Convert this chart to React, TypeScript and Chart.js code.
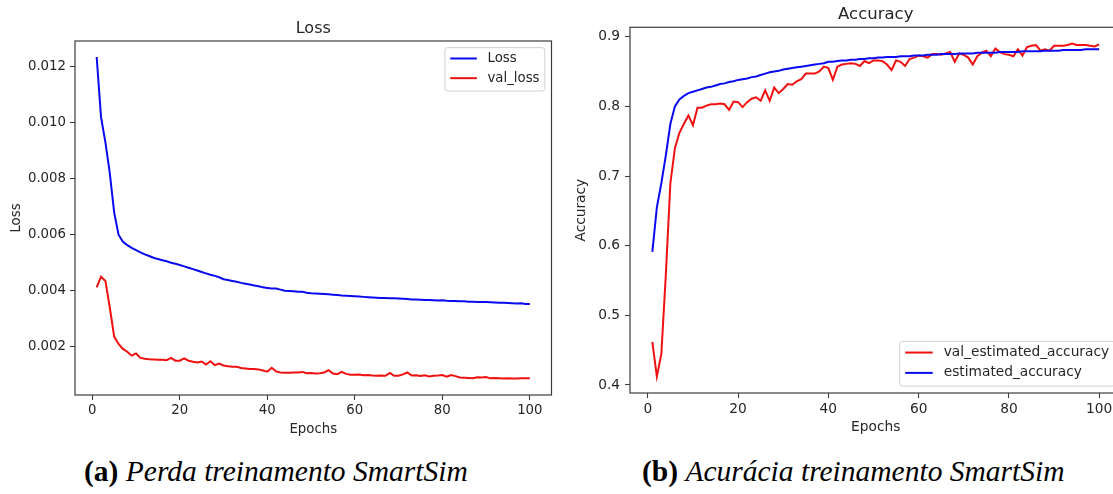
import React, { useEffect, useRef } from "react";
import { Chart, registerables } from "chart.js";

Chart.register(...registerables);

const FONT = "'DejaVu Sans', sans-serif";

const epochs = [
  1, 2, 3, 4, 5, 6, 7, 8, 9, 10, 11, 12, 13, 14, 15, 16, 17, 18, 19, 20,
  21, 22, 23, 24, 25, 26, 27, 28, 29, 30, 31, 32, 33, 34, 35, 36, 37, 38, 39, 40,
  41, 42, 43, 44, 45, 46, 47, 48, 49, 50, 51, 52, 53, 54, 55, 56, 57, 58, 59, 60,
  61, 62, 63, 64, 65, 66, 67, 68, 69, 70, 71, 72, 73, 74, 75, 76, 77, 78, 79, 80,
  81, 82, 83, 84, 85, 86, 87, 88, 89, 90, 91, 92, 93, 94, 95, 96, 97, 98, 99, 100,
];

const lossValues = [
  0.01235, 0.0102, 0.0093, 0.0082, 0.0068, 0.006, 0.00575, 0.00563, 0.00553, 0.00545,
  0.00537, 0.0053, 0.00524, 0.00518, 0.00513, 0.00509, 0.00505, 0.005, 0.00496, 0.00492,
  0.00487, 0.00482, 0.00477, 0.00472, 0.00467, 0.00462, 0.00457, 0.00453, 0.00448, 0.00441,
  0.00438, 0.00435, 0.00432, 0.00428, 0.00425, 0.00422, 0.00419, 0.00416, 0.00412, 0.0041,
  0.00408, 0.00408, 0.00404, 0.004, 0.00399, 0.00398, 0.00396, 0.00396, 0.00393, 0.00391,
  0.0039, 0.00389, 0.00388, 0.00387, 0.00386, 0.00385, 0.00383, 0.00382, 0.00381, 0.0038,
  0.00379, 0.00378, 0.00377, 0.00376, 0.00375, 0.00374, 0.00374, 0.00373, 0.00373, 0.00372,
  0.00371, 0.0037, 0.00369, 0.00369, 0.00368, 0.00367, 0.00367, 0.00366, 0.00365, 0.00366,
  0.00364, 0.00363, 0.00363, 0.00362, 0.00362, 0.00361, 0.00361, 0.0036, 0.0036, 0.0036,
  0.00359, 0.00358, 0.00357, 0.00357, 0.00356, 0.00355, 0.00354, 0.00355, 0.00353, 0.00353,
];

const valLossValues = [
  0.00412, 0.0045, 0.00435, 0.0034, 0.00236, 0.0021, 0.00192, 0.00182, 0.00168, 0.00176,
  0.0016, 0.00157, 0.00155, 0.00154, 0.00153, 0.00153, 0.00152, 0.0016, 0.0015, 0.0015,
  0.00158, 0.0015, 0.00146, 0.00144, 0.00147, 0.00136, 0.00148, 0.00134, 0.0014, 0.00133,
  0.0013, 0.00128, 0.00128, 0.00124, 0.00122, 0.0012, 0.0012, 0.00119, 0.00115, 0.00111,
  0.00125, 0.00112, 0.00108, 0.00107, 0.00107, 0.00108, 0.00108, 0.0011, 0.00105, 0.00106,
  0.00104, 0.00105, 0.00108, 0.00116, 0.00104, 0.00102, 0.0011, 0.00103, 0.001, 0.001,
  0.00101, 0.00098, 0.00099, 0.00097, 0.00096, 0.00097, 0.00096, 0.00106, 0.00096, 0.00096,
  0.00101, 0.00108, 0.00097, 0.00098, 0.00095, 0.00098, 0.00094, 0.00096, 0.00097, 0.00099,
  0.00093, 0.00099, 0.00095, 0.0009, 0.00089, 0.00088, 0.00087, 0.00091, 0.0009, 0.00092,
  0.00087, 0.00088, 0.00087, 0.00086, 0.00087, 0.00086, 0.00086, 0.00087, 0.00087, 0.00087,
];

const valAccuracyValues = [
  0.462, 0.412, 0.445, 0.56, 0.69, 0.74, 0.762, 0.775, 0.787, 0.773,
  0.798, 0.798, 0.801, 0.803, 0.803, 0.804, 0.803, 0.795, 0.807, 0.806,
  0.799, 0.806, 0.811, 0.813, 0.808, 0.823, 0.808, 0.827, 0.819, 0.825,
  0.832, 0.831, 0.836, 0.839, 0.847, 0.847, 0.847, 0.85, 0.857, 0.855,
  0.838, 0.857, 0.86, 0.861, 0.862, 0.861, 0.858, 0.865, 0.862, 0.866,
  0.866, 0.865, 0.86, 0.852, 0.866, 0.864, 0.858, 0.868, 0.87, 0.873,
  0.872, 0.87, 0.875, 0.875, 0.874, 0.876, 0.878, 0.864, 0.876, 0.874,
  0.87, 0.86, 0.872, 0.877, 0.88, 0.872, 0.883, 0.878, 0.875, 0.874,
  0.872, 0.882, 0.873, 0.885, 0.887, 0.888, 0.88, 0.882, 0.88, 0.887,
  0.887, 0.887, 0.888, 0.89, 0.888, 0.888, 0.888, 0.887, 0.886, 0.889,
];

const accuracyValues = [
  0.591, 0.655, 0.69, 0.73, 0.775, 0.8, 0.81, 0.815, 0.819, 0.821,
  0.823, 0.825, 0.827, 0.828, 0.83, 0.832, 0.833, 0.835, 0.836, 0.838,
  0.839, 0.84, 0.842, 0.843, 0.845, 0.847, 0.849, 0.85, 0.851, 0.853,
  0.854, 0.855, 0.856, 0.857, 0.858, 0.859, 0.86, 0.861, 0.862, 0.864,
  0.864, 0.865, 0.866, 0.866, 0.867, 0.867, 0.868, 0.868, 0.869, 0.869,
  0.87, 0.87, 0.871, 0.871, 0.871, 0.872, 0.872, 0.872, 0.873, 0.873,
  0.873, 0.874, 0.874, 0.874, 0.875, 0.875, 0.875, 0.875, 0.876, 0.876,
  0.876, 0.876, 0.877, 0.877, 0.877, 0.877, 0.877, 0.878, 0.878, 0.878,
  0.878, 0.878, 0.879, 0.879, 0.879, 0.879, 0.879, 0.88, 0.88, 0.88,
  0.88, 0.881, 0.881, 0.881, 0.881, 0.881, 0.882, 0.882, 0.882, 0.882,
];

const xTickValues = [0, 20, 40, 60, 80, 100];
const lossTickValues = [0.002, 0.004, 0.006, 0.008, 0.01, 0.012];
const accTickValues = [0.4, 0.5, 0.6, 0.7, 0.8, 0.9];

const BLUE = "#0a0af0";
const RED = "#f01010";
const TEXT = "#262626";
const SPINE = "#3c3c3c";

const framePlugin = {
  id: "mplFrame",
  afterDatasetsDraw(chart: any) {
    const { ctx, chartArea } = chart;
    ctx.save();
    ctx.strokeStyle = SPINE;
    ctx.lineWidth = 1.2;
    ctx.strokeRect(chartArea.left, chartArea.top, chartArea.right - chartArea.left, chartArea.bottom - chartArea.top);
    ctx.restore();
  },
};

const legendPlugin = {
  id: "mplLegend",
  afterDraw(chart: any, _args: any, opts: any) {
    const { ctx, chartArea } = chart;
    const fs = opts.fontSize;
    ctx.save();
    ctx.font = `${fs}px ${FONT}`;
    const items = chart.data.datasets.map((d: any) => ({ label: d.label, color: d.borderColor }));
    const textW = Math.max(...items.map((i: any) => ctx.measureText(i.label).width));
    const pad = 0.4 * fs;
    const handle = 2 * fs;
    const gap = 0.8 * fs;
    const rowH = 0.98 * fs;
    const spacing = 0.5 * fs;
    const axPad = 0.5 * fs;
    const w = pad * 2 + handle + gap + textW;
    const h = pad * 2 + items.length * rowH + (items.length - 1) * spacing;
    const x = chartArea.right - axPad - w;
    const y = opts.loc === "upper right" ? chartArea.top + axPad : chartArea.bottom - axPad - h;
    ctx.beginPath();
    ctx.roundRect(x, y, w, h, 0.2 * fs);
    ctx.fillStyle = "rgba(255,255,255,0.8)";
    ctx.fill();
    ctx.strokeStyle = "#d0d0d0";
    ctx.lineWidth = 1;
    ctx.stroke();
    items.forEach((it: any, i: number) => {
      const cy = y + pad + rowH / 2 + i * (rowH + spacing) - 1;
      ctx.beginPath();
      ctx.moveTo(x + pad, cy);
      ctx.lineTo(x + pad + handle, cy);
      ctx.strokeStyle = it.color;
      ctx.lineWidth = 2;
      ctx.stroke();
      ctx.fillStyle = TEXT;
      ctx.textBaseline = "middle";
      ctx.textAlign = "left";
      ctx.fillText(it.label, x + pad + handle + gap, cy);
    });
    ctx.restore();
  },
};

type PanelProps = {
  title: string;
  yTitle: string;
  series: { label: string; values: number[]; color: string }[];
  yTicks: number[];
  yMin: number;
  yMax: number;
  decimals: number;
  fontSize: number;
  titleSize: number;
  titleTop: number;
  titleBottom: number;
  yWidth: number;
  yTitlePad: number;
  yTickPad: number;
  padRight: number;
  padBottom: number;
  width: number;
  height: number;
  legendLoc: string;
};

function Panel(p: PanelProps) {
  const ref = useRef<HTMLCanvasElement | null>(null);
  useEffect(() => {
    if (!ref.current) return;
    const tickFont = { family: FONT, size: p.fontSize };
    const n = p.series.length;
    const chart = new Chart(ref.current, {
      type: "line",
      data: {
        datasets: p.series.map((s, i) => ({
          label: s.label,
          data: epochs.map((e, j) => ({ x: e, y: s.values[j] })),
          borderColor: s.color,
          backgroundColor: s.color,
          borderWidth: 2,
          pointRadius: 0,
          tension: 0,
          fill: false,
          order: n - i,
        })),
      },
      options: {
        animation: false,
        responsive: false,
        maintainAspectRatio: false,
        events: [],
        layout: { padding: { left: 0, top: 0, right: p.padRight, bottom: p.padBottom } },
        plugins: {
          legend: { display: false },
          tooltip: { enabled: false },
          title: {
            display: true,
            text: p.title,
            color: TEXT,
            fullSize: false,
            font: { family: FONT, size: p.titleSize, weight: "normal", lineHeight: 1.2 },
            padding: { top: p.titleTop, bottom: p.titleBottom },
          },
          mplLegend: { fontSize: p.fontSize, loc: p.legendLoc },
        } as any,
        scales: {
          x: {
            type: "linear",
            min: -3.95,
            max: 104.95,
            afterBuildTicks: (s: any) => {
              s.ticks = xTickValues.map((v) => ({ value: v }));
            },
            afterFit: (s: any) => {
              s.height = 50;
            },
            grid: { drawOnChartArea: false, drawTicks: true, tickLength: 5, tickColor: SPINE, tickWidth: 1.1 },
            border: { display: false },
            ticks: {
              color: TEXT,
              font: tickFont,
              padding: 3,
              maxRotation: 0,
              autoSkip: false,
              callback: (v: any) => String(v),
            },
            title: {
              display: true,
              text: "Epochs",
              color: TEXT,
              font: tickFont,
              padding: { top: 0, bottom: 7 },
            },
          },
          y: {
            type: "linear",
            min: p.yMin,
            max: p.yMax,
            afterBuildTicks: (s: any) => {
              s.ticks = p.yTicks.map((v) => ({ value: v }));
            },
            afterFit: (s: any) => {
              s.width = p.yWidth;
            },
            grid: { drawOnChartArea: false, drawTicks: true, tickLength: 5, tickColor: SPINE, tickWidth: 1.1 },
            border: { display: false },
            ticks: {
              color: TEXT,
              font: tickFont,
              padding: p.yTickPad,
              autoSkip: false,
              callback: (v: any) => Number(v).toFixed(p.decimals),
            },
            title: {
              display: true,
              text: p.yTitle,
              color: TEXT,
              font: tickFont,
              padding: { top: p.yTitlePad, bottom: 0 },
            },
          },
        },
      },
      plugins: [framePlugin, legendPlugin],
    } as any);
    return () => chart.destroy();
  }, []);
  return <canvas ref={ref} width={p.width} height={p.height} style={{ display: "block", width: p.width, height: p.height }} />;
}

export default function App() {
  const capStyle: React.CSSProperties = {
    position: "absolute",
    top: 455,
    fontFamily: "'Liberation Serif', 'DejaVu Serif', serif",
    fontSize: 29.5,
    whiteSpace: "nowrap",
    color: "#000",
  };
  return (
    <div style={{ position: "absolute", left: 0, top: 0, width: 1113, height: 494, overflow: "hidden", background: "#fff" }}>
      <div style={{ position: "absolute", left: 0, top: 0 }}>
        <Panel
          title="Loss"
          yTitle="Loss"
          series={[
            { label: "Loss", values: lossValues, color: BLUE },
            { label: "val_loss", values: valLossValues, color: RED },
          ]}
          yTicks={lossTickValues}
          yMin={0.000275}
          yMax={0.01292}
          decimals={3}
          fontSize={13.3}
          titleSize={16}
          titleTop={19}
          titleBottom={2.8}
          yWidth={75}
          yTitlePad={9}
          yTickPad={4}
          padRight={8.5}
          padBottom={5}
          width={560}
          height={450}
          legendLoc="upper right"
        />
      </div>
      <div style={{ position: "absolute", left: 560, top: 0 }}>
        <Panel
          title="Accuracy"
          yTitle="Accuracy"
          series={[
            { label: "val_estimated_accuracy", values: valAccuracyValues, color: RED },
            { label: "estimated_accuracy", values: accuracyValues, color: BLUE },
          ]}
          yTicks={accTickValues}
          yMin={0.3885}
          yMax={0.9135}
          decimals={1}
          fontSize={13.75}
          titleSize={16.5}
          titleTop={5}
          titleBottom={2.5}
          yWidth={70}
          yTitlePad={13}
          yTickPad={5}
          padRight={10.5}
          padBottom={7}
          width={572}
          height={450}
          legendLoc="lower right"
        />
      </div>
      <div style={{ ...capStyle, left: 84 }}>
        <b style={{ fontStyle: "normal" }}>(a)</b> <i>Perda treinamento SmartSim</i>
      </div>
      <div style={{ ...capStyle, left: 642 }}>
        <b style={{ fontStyle: "normal" }}>(b)</b> <i>Acurácia treinamento SmartSim</i>
      </div>
    </div>
  );
}
